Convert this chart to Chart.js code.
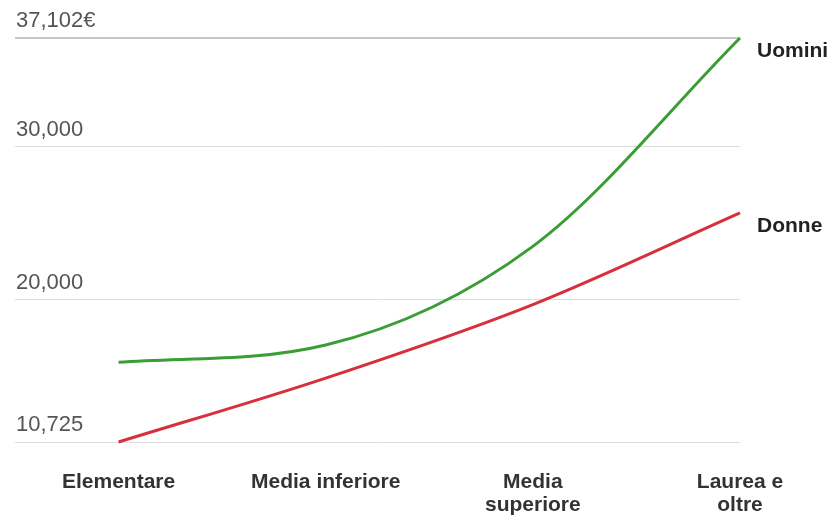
<!DOCTYPE html>
<html>
<head>
<meta charset="utf-8">
<script src="https://cdn.jsdelivr.net/npm/chart.js@4/dist/chart.umd.min.js"></script>
<style>
  html, body { margin: 0; padding: 0; background: #fff; }
  #wrap { width: 835px; height: 517px; }
</style>
</head>
<body>
<div id="wrap"><canvas id="c" width="835" height="517"></canvas></div>
<script>
// Reddito medio annuo per titolo di studio
const categories = [['Elementare'], ['Media inferiore'], ['Media', 'superiore'], ['Laurea e', 'oltre']];
const uomini = [15930, 17060, 23500, 37102];
const donne = [10725, 14900, 19700, 25686];
const yTicks = [10725, 20000, 30000, 37102];
const yTickLabels = ['10,725', '20,000', '30,000', '37,102€'];
const seriesNames = ['Uomini', 'Donne'];
const seriesColors = ['#3a9d35', '#d7303c'];

const FONT = '"Liberation Sans", Arial, sans-serif';

// Series names written at the end of each line
const endLabels = {
  id: 'endLabels',
  afterDatasetsDraw(chart) {
    const ctx = chart.ctx;
    ctx.save();
    ctx.font = 'bold 21px ' + FONT;
    ctx.fillStyle = '#222';
    ctx.textAlign = 'left';
    ctx.textBaseline = 'middle';
    chart.data.datasets.forEach((ds, i) => {
      const pts = chart.getDatasetMeta(i).data;
      const last = pts[pts.length - 1];
      ctx.fillText(ds.label, last.x + 17, last.y + 13);
    });
    ctx.restore();
  }
};

const toPoints = arr => arr.map((v, i) => ({ x: i, y: v }));

new Chart(document.getElementById('c'), {
  type: 'line',
  data: {
    datasets: [
      { label: seriesNames[0], data: toPoints(uomini), borderColor: seriesColors[0] },
      { label: seriesNames[1], data: toPoints(donne), borderColor: seriesColors[1] }
    ].map(d => Object.assign(d, {
      borderWidth: 3,
      pointRadius: 0,
      fill: false,
      cubicInterpolationMode: 'monotone',
      clip: false
    }))
  },
  options: {
    responsive: false,
    animation: false,
    layout: { padding: { left: 15, right: 95, top: 38, bottom: 0 } },
    plugins: { legend: { display: false }, tooltip: { enabled: false } },
    scales: {
      x: {
        type: 'linear',
        min: -0.5,
        max: 3,
        afterBuildTicks: s => { s.ticks = categories.map((c, i) => ({ value: i })); },
        afterFit: s => { s.height = 75; },
        grid: { display: false, drawTicks: false },
        border: { display: false },
        ticks: {
          autoSkip: false,
          maxRotation: 0,
          padding: 28,
          color: '#333',
          font: { family: FONT, size: 21, weight: 'bold', lineHeight: 1.12 },
          callback: v => categories[v]
        }
      },
      y: {
        min: yTicks[0],
        max: yTicks[yTicks.length - 1],
        afterBuildTicks: s => { s.ticks = yTicks.map(v => ({ value: v })); },
        afterFit: s => { s.width = 0; },
        grid: {
          drawTicks: false,
          color: ctx => ctx.index === yTicks.length - 1 ? '#c6c6c6' : '#dcdcdc',
          lineWidth: ctx => ctx.index === yTicks.length - 1 ? 2 : 1
        },
        border: { display: false },
        ticks: {
          mirror: true,
          padding: 1,
          labelOffset: -17,
          color: '#555',
          font: { family: FONT, size: 22 },
          callback: (v, i) => yTickLabels[i]
        }
      }
    }
  },
  plugins: [endLabels]
});
</script>
</body>
</html>
